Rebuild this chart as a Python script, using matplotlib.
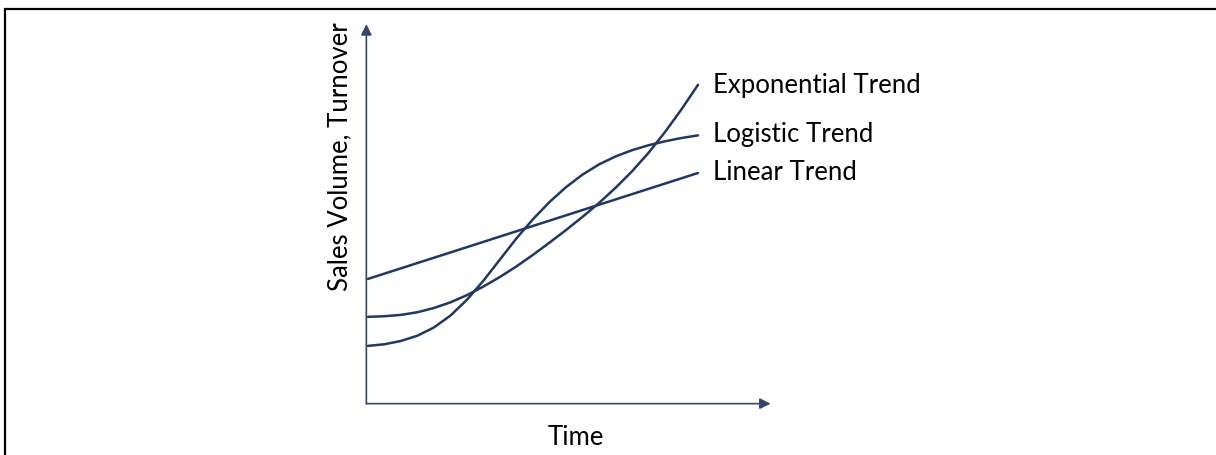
import matplotlib
matplotlib.use("Agg")
import matplotlib.pyplot as plt
from matplotlib.patches import Rectangle

# Zeitachse (beliebige Einheiten) und Verläufe der drei Trendtypen
time = [0.0, 0.5, 1.0, 1.5, 2.0, 2.5, 3.0, 3.5, 4.0, 4.5, 5.0,
        5.5, 6.0, 6.5, 7.0, 7.5, 8.0, 8.5, 9.0, 9.5, 10.0]
logistic = [1.70, 1.75, 1.85, 2.01, 2.26, 2.62, 3.10, 3.68, 4.32, 4.96, 5.54,
            6.06, 6.51, 6.89, 7.20, 7.44, 7.63, 7.78, 7.90, 8.00, 8.08]
exponential = [2.58, 2.60, 2.64, 2.72, 2.85, 3.02, 3.24, 3.50, 3.79, 4.11, 4.46,
               4.83, 5.21, 5.61, 6.03, 6.49, 6.99, 7.55, 8.18, 8.87, 9.61]
linear_t = [0.0, 10.0]
linear = [3.73, 6.94]

labels = ["Exponential Trend", "Logistic Trend", "Linear Trend"]
x_label = "Time"
y_label = "Sales Volume, Turnover"

NAVY = "#1f3864"
AXIS = "#34466a"
FONT = "Lato"
FS = 18.5

W, H = 1216, 456
fig = plt.figure(figsize=(W / 100, H / 100), dpi=100)

# Achsenbereich so legen, dass 1 Einheit = 33 px, Ursprung bei (368, 403) px
PX = 33.0
ox, oy = 368.0, 403.0
xmin, xmax = -0.3, 12.5
ymin, ymax = -0.3, 11.8
left = (ox + xmin * PX) / W
bottom = (H - (oy - ymin * PX)) / H
ax = fig.add_axes([left, bottom, (xmax - xmin) * PX / W, (ymax - ymin) * PX / H])
ax.set_xlim(xmin, xmax)
ax.set_ylim(ymin, ymax)
ax.axis("off")

# Achsen mit Pfeilspitzen
arrow = dict(arrowstyle="-|>", color=AXIS, lw=1.2, mutation_scale=16,
             shrinkA=0, shrinkB=0)
ax.annotate("", xy=(-0.05, 11.45), xytext=(-0.05, -0.05), arrowprops=arrow)
ax.annotate("", xy=(12.2, -0.05), xytext=(-0.05, -0.05), arrowprops=arrow)

for xs, ys in [(linear_t, linear), (time, logistic), (time, exponential)]:
    ax.plot(xs, ys, color=NAVY, lw=1.8, solid_capstyle="round",
            solid_joinstyle="round")

ends = [exponential[-1], logistic[-1] + 0.06, linear[-1] + 0.06]
for lab, yv in zip(labels, ends):
    ax.text(10.45, yv, lab, fontsize=FS, family=FONT, ha="left", va="center",
            color="black")

ax.text(6.3, -1.05, x_label, fontsize=FS, family=FONT, ha="center", va="center")
ax.text(-0.85, 7.48, y_label, fontsize=FS, family=FONT, ha="center",
        va="center", rotation=90)

# Rahmen um die Abbildung (rechts/unten angeschnitten)
fig.add_artist(Rectangle((5 / W, -0.2), 1.5, 1.2 - 10 / H, transform=fig.transFigure,
                         fill=False, edgecolor="black", lw=1.6))

fig.savefig("out.png", dpi=100)
